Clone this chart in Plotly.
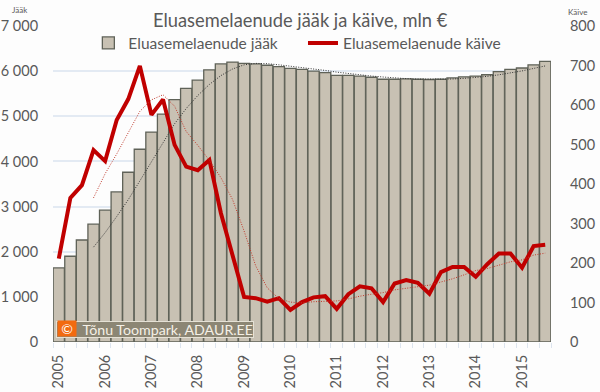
import plotly.graph_objects as go

years = ["2005","2006","2007","2008","2009","2010","2011","2012","2013","2014","2015"]
balance = [1640,1900,2260,2610,2920,3325,3760,4270,4650,5050,5370,5620,5800,6030,6160,6200,6170,6160,6130,6100,6060,
           6040,6000,5965,5905,5905,5890,5865,5820,5820,5830,5820,5815,5820,5850,5875,5890,5920,5990,6040,6070,6140,6215]
turnover = [211,365,397,486,458,562,615,699,575,614,499,444,435,461,326,222,114,111,102,111,81,
            101,113,116,84,121,141,136,101,148,157,150,122,177,190,190,165,197,224,224,188,243,246]
balance_avg = [2102,2422,2779,3154,3569,4001,4432,4835,5172,5460,5705,5902,6047,6140,6172,6165,6140,6112,6082,6050,
               6016,5978,5944,5916,5891,5870,5849,5834,5825,5821,5821,5826,5840,5859,5884,5919,5960,6005,6060,6116]
turnover_avg = [365,426,476,530,584,613,626,597,533,498,460,416,361,281,193,137,110,101,99,102,103,104,109,116,121,
                125,132,136,139,144,152,160,170,181,186,194,203,208,220,225]
idx = list(range(len(balance)))
idx_avg = idx[3:]
TXT = "#595959"
BG = "#FDFDFD"
FONT = "Lato, Open Sans, sans-serif"

fig = go.Figure()
fig.add_bar(x=idx, y=balance, name="Eluasemelaenude jääk", width=0.97, legend="legend",
            marker=dict(color="#C8C1B3", line=dict(color="#5F6258", width=1.3)))
fig.add_scatter(x=idx_avg, y=balance_avg, mode="lines", showlegend=False,
                line=dict(color="#333333", width=1, dash="1px,1.5px"))
fig.add_scatter(x=idx, y=turnover, yaxis="y2", mode="lines", name="Eluasemelaenude käive", legend="legend2",
                line=dict(color="#C00000", width=4))
fig.add_scatter(x=idx_avg, y=turnover_avg, yaxis="y2", mode="lines", showlegend=False,
                line=dict(color="#C0392B", width=1, dash="1px,1.5px"))

leg = dict(yanchor="middle", y=0.945, xanchor="left", font=dict(size=15.5, color=TXT),
           bgcolor="rgba(0,0,0,0)", itemwidth=30, borderwidth=0)

fig.update_layout(
    width=600, height=392, margin=dict(l=53, r=49, t=26, b=50, autoexpand=False),
    paper_bgcolor=BG, plot_bgcolor=BG, showlegend=True,
    font=dict(family=FONT, color=TXT),
    legend=dict(x=0.071, **leg),
    legend2=dict(x=0.502, **leg),
    xaxis=dict(range=[-0.5, 42.5], tickmode="array", tickvals=idx[::4], ticktext=years,
               tickangle=-90, tickfont=dict(size=14.5, color=TXT), ticks="outside", ticklen=6, tickcolor="rgba(0,0,0,0)",
               showgrid=False, automargin=False,
               minor=dict(tickmode="array", tickvals=[i-0.5 for i in range(44)], ticks="outside",
                          ticklen=5, tickcolor="#DCE4EE", showgrid=False),
               showline=False, zeroline=False),
    yaxis=dict(range=[0, 7000], tickvals=[0,1000,2000,3000,4000,5000,6000,7000],
               ticktext=["0","1 000","2 000","3 000","4 000","5 000","6 000","7 000"],
               ticks="outside", ticklen=11, tickcolor="rgba(0,0,0,0)", automargin=False,
               tickfont=dict(size=14.5, color=TXT), gridcolor="#E3EAF3", gridwidth=1.5, zeroline=False),
    yaxis2=dict(range=[0, 800], overlaying="y", side="right", tickvals=[0,100,200,300,400,500,600,700,800],
                ticks="outside", ticklen=15, tickcolor="rgba(0,0,0,0)", automargin=False,
                tickfont=dict(size=14.5, color=TXT), showgrid=False, zeroline=False),
    annotations=[
        dict(text="Eluasemelaenude jääk ja käive, mln €", xref="paper", yref="paper", x=0.5, xshift=-2, xanchor="center",
             y=1.0, yanchor="middle", yshift=6, showarrow=False, bgcolor=BG, borderpad=2, font=dict(size=18.3, color=TXT)),
        dict(text="Jääk", xref="paper", yref="paper", x=0, xshift=-43, xanchor="left", y=1.0, yshift=16, yanchor="middle",
             showarrow=False, font=dict(size=8, color=TXT)),
        dict(text="Käive", xref="paper", yref="paper", x=1, xshift=15, xanchor="left", y=1.0, yshift=14, yanchor="middle",
             showarrow=False, font=dict(size=8, color=TXT)),
        dict(text="Tõnu Toompark, ADAUR.EE", xref="paper", yref="paper", x=0, xshift=3, xanchor="left", y=0, yshift=4,
             yanchor="bottom", showarrow=False, bgcolor="#8C8674", bordercolor="#E5E1D5", borderwidth=1, borderpad=0,
             width=196, height=15, align="right", font=dict(size=14.2, color="#F5F0E6")),
        dict(text="©", xref="paper", yref="paper", x=0, xshift=4, xanchor="left", y=0, yshift=5, yanchor="bottom",
             showarrow=False, bgcolor="#F26A10", borderpad=0, width=18, height=15, font=dict(size=14, color="#FFFFFF")),
    ],
)
fig.write_html("out.html", config={"displayModeBar": False}, post_script="document.body.style.margin='0';")
